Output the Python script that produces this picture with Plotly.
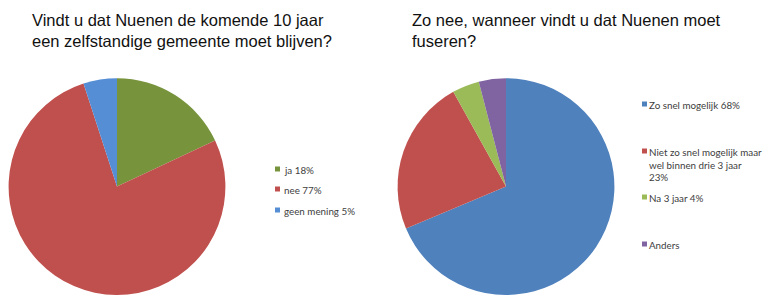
import plotly.graph_objects as go

# ---- data ----
title1 = "Vindt u dat Nuenen de komende 10 jaar<br>een zelfstandige gemeente moet blijven?"
labels1 = ["ja 18%", "nee 77%", "geen mening 5%"]
values1 = [18, 77, 5]
colors1 = ["#77933C", "#C0504D", "#558ED5"]

title2 = "Zo nee, wanneer vindt u dat Nuenen moet<br>fuseren?"
labels2 = ["Zo snel mogelijk 68%",
           "Niet zo snel mogelijk maar<br>wel binnen drie 3 jaar<br>23%",
           "Na 3 jaar 4%",
           "Anders"]
values2 = [68, 23, 4, 4]
colors2 = ["#4F81BD", "#C0504D", "#9BBB59", "#8064A2"]

W, H = 772, 295

fig = go.Figure()
fig.add_trace(go.Pie(
    labels=labels1, values=values1, sort=False, direction="clockwise", rotation=0,
    marker=dict(colors=colors1, line=dict(width=0)), textinfo="none", showlegend=False,
    hoverinfo="label",
    domain=dict(x=[7 / W, 227 / W], y=[0, 0.735]),
))
fig.add_trace(go.Pie(
    labels=labels2, values=values2, sort=False, direction="clockwise", rotation=0,
    marker=dict(colors=colors2, line=dict(width=0)), textinfo="none", showlegend=False,
    hoverinfo="label",
    domain=dict(x=[396 / W, 616 / W], y=[0, 0.735]),
))

annotations = []
shapes = []

def px_x(x):
    return x / W

def px_y(y):
    return 1 - y / H

title_font = dict(family="Liberation Sans, Arial", size=16.5, color="#111111")
annotations.append(dict(text=title1, x=px_x(30), y=px_y(9), xref="paper", yref="paper",
                        xanchor="left", yanchor="top", align="left", showarrow=False,
                        font=title_font))
annotations.append(dict(text=title2, x=px_x(410), y=px_y(9), xref="paper", yref="paper",
                        xanchor="left", yanchor="top", align="left", showarrow=False,
                        font=title_font))

leg_font = dict(family="Lato, Open Sans, sans-serif", size=9.8, color="#404040")

def legend(labels, colors, x_sq, x_txt, ys):
    for lab, col, y in zip(labels, colors, ys):
        annotations.append(dict(text=lab, x=px_x(x_txt), y=px_y(y - 7), xref="paper", yref="paper",
                                xanchor="left", yanchor="top", align="left", showarrow=False,
                                font=leg_font))
        shapes.append(dict(type="rect", xref="paper", yref="paper",
                           x0=px_x(x_sq), x1=px_x(x_sq + 5),
                           y0=px_y(y + 2.5), y1=px_y(y - 2.5),
                           fillcolor=col, line=dict(width=0)))

legend(labels1, colors1, 275, 282, [169, 189, 210])
legend(labels2, colors2, 642, 647, [104, 151, 197, 244])

fig.update_layout(
    width=W, height=H, margin=dict(l=0, r=0, t=0, b=0),
    paper_bgcolor="white", plot_bgcolor="white",
    annotations=annotations, shapes=shapes,
)

fig.write_html("out.html", config={"displayModeBar": False},
               post_script="document.body.style.margin='0';")
